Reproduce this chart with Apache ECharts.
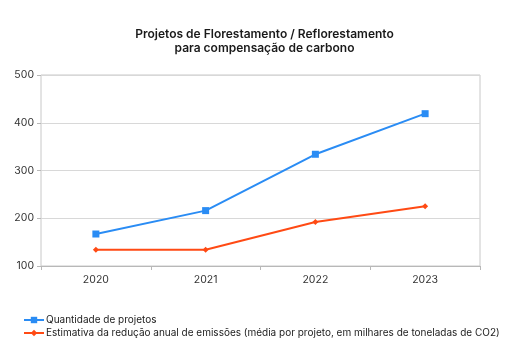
<!DOCTYPE html>
<html><head><meta charset="utf-8">
<script src="https://cdn.jsdelivr.net/npm/echarts@6/dist/echarts.min.js"></script>
<style>html,body{margin:0;padding:0;background:#fff}#c{width:529px;height:353px}</style>
</head><body><div id="c"></div>
<script>
const categories = ['2020', '2021', '2022', '2023'];
const projetos = [167, 216, 334, 419];
const reducao = [134, 134, 192, 225];
const seriesNames = ['Quantidade de projetos', 'Estimativa da redução anual de emissões (média por projeto, em milhares de toneladas de CO2)'];
const yTicks = { min: 100, max: 500, interval: 100 };

const chart = echarts.init(document.getElementById('c'));
chart.setOption({
  animation: false,
  backgroundColor: '#fff',
  title: {
    text: 'Projetos de Florestamento / Reflorestamento\npara compensação de carbono',
    left: 'center', top: 22,
    textStyle: { fontFamily: 'Inter', fontSize: 12, fontWeight: 600, color: '#1a1a1a', lineHeight: 14 }
  },
  legend: {
    orient: 'vertical', left: 18, top: 310, itemGap: 3,
    itemWidth: 20, itemHeight: 8,
    textStyle: { fontFamily: 'Inter', fontSize: 10, color: '#222', padding: [0, 0, 0, -3] },
    data: seriesNames
  },
  grid: { left: 41, right: 49, top: 75, bottom: 87, show: true, borderColor: '#c8c8c8', borderWidth: 1 },
  xAxis: {
    type: 'category', data: categories, boundaryGap: true,
    axisLine: { lineStyle: { color: '#b8b8b8', width: 1 } },
    axisTick: { show: true, length: 4, lineStyle: { color: '#b8b8b8' } },
    axisLabel: { fontFamily: 'Inter', fontSize: 10.5, color: '#333', margin: 8 },
    splitLine: { show: false }
  },
  yAxis: {
    type: 'value', min: yTicks.min, max: yTicks.max, interval: yTicks.interval,
    axisLine: { show: false },
    axisTick: { show: true, length: 4, lineStyle: { color: '#b8b8b8' } },
    axisLabel: { fontFamily: 'Inter', fontSize: 10.5, color: '#333', margin: 7 },
    splitLine: { lineStyle: { color: '#d8d8d8', width: 1 } }
  },
  series: [
    { name: seriesNames[0], type: 'line', data: projetos, symbol: 'rect', symbolSize: 7,
      itemStyle: { color: '#2a8cf4' }, lineStyle: { color: '#2a8cf4', width: 2 } },
    { name: seriesNames[1], type: 'line', data: reducao, symbol: 'diamond', symbolSize: 6,
      itemStyle: { color: '#ff4a14' }, lineStyle: { color: '#ff4a14', width: 2 } }
  ]
});
</script></body></html>
